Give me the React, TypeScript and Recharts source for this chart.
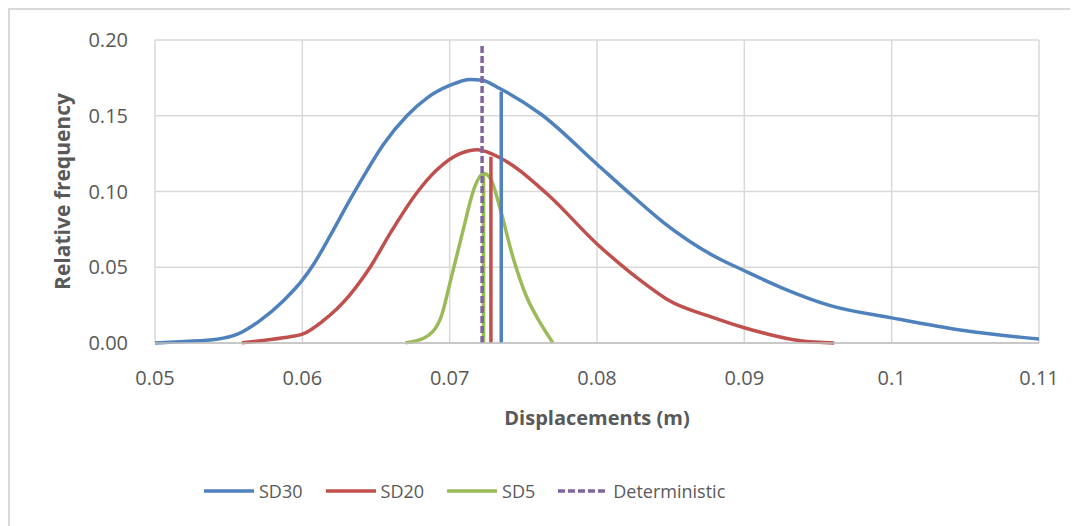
import React from "react";
import { LineChart, Line, XAxis, YAxis, CartesianGrid, Legend } from "recharts";

// values
const sd30X = [0.05, 0.052, 0.0542, 0.0556, 0.0571, 0.0587, 0.06, 0.0608, 0.0619, 0.0632, 0.0644, 0.0655, 0.0671, 0.0685, 0.07, 0.0714, 0.0722, 0.0734, 0.0762, 0.08, 0.0823, 0.0845, 0.0879, 0.09, 0.0925, 0.0959, 0.1, 0.1049, 0.11];
const sd30Y = [0, 0.001, 0.0025, 0.0058, 0.0146, 0.0278, 0.0415, 0.0525, 0.071, 0.094, 0.114, 0.131, 0.15, 0.162, 0.17, 0.174, 0.1735, 0.168, 0.151, 0.118, 0.098, 0.0797, 0.0576, 0.0477, 0.0366, 0.0245, 0.0166, 0.0082, 0.0026];

const sd20X = [0.0559, 0.0587, 0.06, 0.0614, 0.0632, 0.0646, 0.066, 0.0678, 0.0691, 0.0707, 0.0719, 0.0734, 0.0766, 0.08, 0.0834, 0.0848, 0.0879, 0.09, 0.0938, 0.0961];
const sd20Y = [0.0002, 0.0035, 0.0058, 0.0146, 0.0315, 0.05, 0.073, 0.0995, 0.114, 0.125, 0.1276, 0.1223, 0.0985, 0.0654, 0.038, 0.0285, 0.0168, 0.0101, 0.0015, 0];

const sd5X = [0.067, 0.0683, 0.0694, 0.07, 0.0709, 0.0717, 0.0723, 0.0728, 0.0734, 0.0743, 0.0752, 0.0762, 0.077];
const sd5Y = [0.0002, 0.0035, 0.0168, 0.0389, 0.074, 0.103, 0.112, 0.108, 0.0896, 0.0565, 0.031, 0.0124, 0.0002];

// mean markers: [x, height]
const sd30Mean = [0.0735, 0.166];
const sd20Mean = [0.0728, 0.123];
const sd5Mean = [0.0723, 0.111];
const deterministic = [0.0722, 0.197];

const xTicks = [0.05, 0.06, 0.07, 0.08, 0.09, 0.1, 0.11];
const yTicks = [0, 0.05, 0.1, 0.15, 0.2];

const BLUE = "#4F81BD";
const RED = "#C0504D";
const GREEN = "#9BBB59";
const PURPLE = "#8064A2";

const legendItems = [
  { name: "SD30", color: BLUE, dash: undefined },
  { name: "SD20", color: RED, dash: undefined },
  { name: "SD5", color: GREEN, dash: undefined },
  { name: "Deterministic", color: PURPLE, dash: "7 3" },
];

const toRows = (xs: number[], ys: number[]) => xs.map((x, i) => ({ x, y: ys[i] }));
const vline = (m: number[]) => [{ x: m[0], y: 0 }, { x: m[0], y: m[1] }];

const FONT = "'Open Sans', sans-serif";

const LegendContent = () => (
  <div style={{ display: "flex", alignItems: "center", height: 30, marginLeft: 193, fontFamily: FONT, fontSize: 18, color: "#595959" }}>
    {legendItems.map((it) => (
      <div key={it.name} style={{ display: "flex", alignItems: "center", marginRight: 22 }}>
        <svg width={52} height={6} style={{ marginRight: 4 }}>
          <line x1={1} y1={3} x2={51} y2={3} stroke={it.color} strokeWidth={3.5} strokeDasharray={it.dash} />
        </svg>
        <span>{it.name}</span>
      </div>
    ))}
  </div>
);

export default function App() {
  return (
    <div style={{ borderTop: "2px solid #d9d9d9", borderLeft: "2px solid #d9d9d9", width: 1068, height: 516, overflow: "hidden" }}>
      <LineChart
        width={1060}
        height={510}
        margin={{ top: 30, right: 31, left: 9, bottom: 14 }}
        style={{ fontFamily: FONT }}
      >
        <CartesianGrid stroke="#d9d9d9" strokeWidth={1.5} />
        <XAxis
          type="number"
          dataKey="x"
          domain={[0.05, 0.11]}
          ticks={xTicks}
          tickFormatter={(v: number) => String(Number(v.toFixed(2)))}
          allowDataOverflow
          height={133}
          tickSize={0}
          tickMargin={28}
          stroke="#bfbfbf"
          strokeWidth={1.5}
          tick={{ fill: "#595959", fontSize: 20 }}
          label={{ value: "Displacements (m)", position: "insideTop", offset: 68, style: { fill: "#595959", fontSize: 20, fontWeight: 700 } }}
        />
        <YAxis
          type="number"
          domain={[0, 0.2]}
          ticks={yTicks}
          tickFormatter={(v: number) => v.toFixed(2)}
          width={136}
          tickSize={0}
          tickMargin={27}
          axisLine={false}
          tick={{ fill: "#595959", fontSize: 20 }}
          label={{ value: "Relative frequency", angle: -90, position: "insideLeft", offset: 44, style: { fill: "#595959", fontSize: 21, fontWeight: 700, textAnchor: "middle" } }}
        />
        <Legend verticalAlign="bottom" content={LegendContent} wrapperStyle={{ left: 0, width: 1060 }} />
        <Line data={toRows(sd30X, sd30Y)} dataKey="y" name="SD30" type="monotoneX" stroke={BLUE} strokeWidth={3.5} dot={false} isAnimationActive={false} />
        <Line data={toRows(sd20X, sd20Y)} dataKey="y" name="SD20" type="monotoneX" stroke={RED} strokeWidth={3.5} dot={false} isAnimationActive={false} />
        <Line data={toRows(sd5X, sd5Y)} dataKey="y" name="SD5" type="monotoneX" stroke={GREEN} strokeWidth={3.5} dot={false} isAnimationActive={false} />
        <Line data={vline(sd30Mean)} dataKey="y" name="SD30 mean" type="linear" stroke={BLUE} strokeWidth={3.5} dot={false} legendType="none" isAnimationActive={false} />
        <Line data={vline(sd20Mean)} dataKey="y" name="SD20 mean" type="linear" stroke={RED} strokeWidth={3.5} dot={false} legendType="none" isAnimationActive={false} />
        <Line data={vline(sd5Mean)} dataKey="y" name="SD5 mean" type="linear" stroke={GREEN} strokeWidth={3.5} dot={false} legendType="none" isAnimationActive={false} />
        <Line data={vline(deterministic)} dataKey="y" name="Deterministic" type="linear" stroke={PURPLE} strokeWidth={3.5} strokeDasharray="7 3" dot={false} isAnimationActive={false} />
      </LineChart>
    </div>
  );
}
